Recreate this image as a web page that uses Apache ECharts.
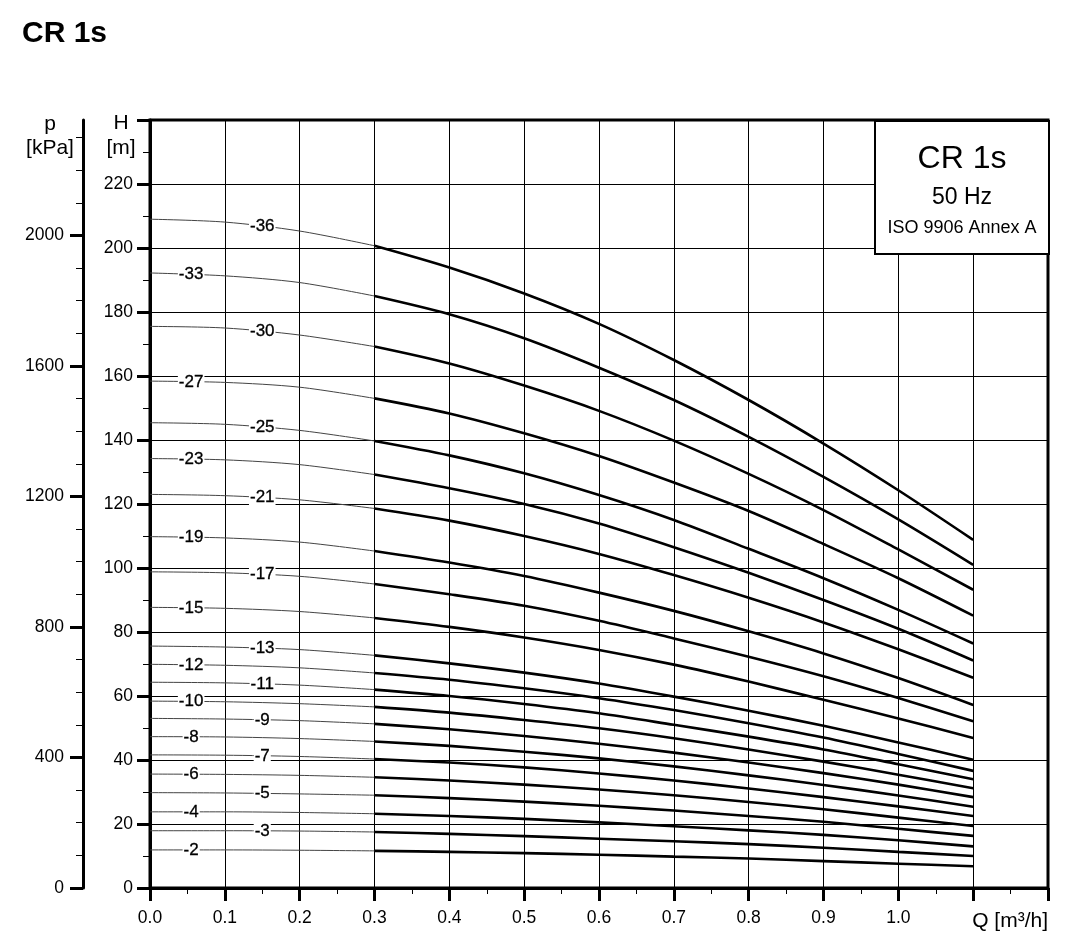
<!DOCTYPE html>
<html>
<head>
<meta charset="utf-8">
<title>CR 1s</title>
<script src="https://cdn.jsdelivr.net/npm/echarts@6/dist/echarts.min.js"></script>
<style>
  html, body { margin: 0; padding: 0; background: #fff; }
  #chart { width: 1081px; height: 942px; }
</style>
</head>
<body>
<div id="chart"></div>
<script>
var flowQ = [0, 0.1, 0.2, 0.3, 0.4, 0.5, 0.6, 0.7, 0.8, 0.9, 1.0, 1.1];

// head (m) per stage variant
var h36 = [209.0, 208.1, 205.3, 200.7, 193.9, 185.8, 176.3, 165.0, 152.5, 138.9, 124.3, 108.8];
var h33 = [192.2, 191.3, 189.2, 185.0, 179.3, 171.8, 162.6, 152.5, 141.0, 128.5, 115.2, 101.0];
var h30 = [175.5, 175.0, 172.8, 169.2, 163.9, 157.0, 149.1, 139.8, 129.4, 118.1, 105.8, 93.2];
var h27 = [158.4, 158.0, 156.5, 153.0, 148.3, 142.1, 135.0, 126.7, 117.8, 107.5, 96.8, 85.1];
var h25 = [145.4, 144.9, 143.0, 139.7, 135.2, 129.6, 122.8, 115.0, 106.0, 96.8, 86.9, 76.4];
var h23 = [134.2, 133.8, 132.3, 129.2, 124.9, 120.0, 113.9, 106.5, 98.5, 90.0, 81.0, 71.1];
var h21 = [123.0, 122.6, 121.3, 118.6, 114.8, 110.0, 104.4, 97.8, 90.7, 83.0, 74.6, 65.7];
var h19 = [109.8, 109.4, 108.1, 105.3, 101.7, 97.5, 92.3, 86.6, 80.2, 73.3, 65.6, 57.2];
var h17 = [98.8, 98.5, 97.4, 95.0, 91.8, 88.2, 83.5, 78.0, 72.3, 66.2, 59.4, 52.1];
var h15 = [87.7, 87.4, 86.4, 84.4, 81.6, 78.3, 74.4, 69.8, 64.5, 58.8, 53.0, 46.9];
var h13 = [75.6, 75.3, 74.5, 72.7, 70.2, 67.3, 63.9, 59.8, 55.4, 50.7, 45.5, 40.1];
var h12 = [69.9, 69.6, 68.8, 67.2, 65.1, 62.4, 59.3, 55.6, 51.5, 47.0, 41.9, 36.6];
var h11 = [64.3, 64.1, 63.4, 62.0, 60.0, 57.5, 54.6, 51.0, 47.3, 43.3, 38.7, 34.0];
var h10 = [58.4, 58.2, 57.6, 56.6, 54.8, 52.5, 49.9, 46.8, 43.3, 39.5, 35.4, 31.2];
var h9 = [53.0, 52.8, 52.3, 51.3, 49.6, 47.5, 45.1, 42.3, 39.2, 35.9, 32.3, 28.4];
var h8 = [47.3, 47.2, 46.7, 45.8, 44.4, 42.6, 40.5, 38.0, 35.2, 32.2, 28.9, 25.4];
var h7 = [41.6, 41.5, 41.1, 40.3, 39.2, 37.7, 35.8, 33.6, 31.1, 28.4, 25.5, 22.5];
var h6 = [35.6, 35.5, 35.2, 34.6, 33.6, 32.3, 30.8, 29.0, 26.9, 24.6, 22.0, 19.4];
var h5 = [29.8, 29.7, 29.4, 29.0, 28.1, 27.0, 25.7, 24.2, 22.5, 20.7, 18.5, 16.3];
var h4 = [23.8, 23.8, 23.6, 23.2, 22.5, 21.6, 20.5, 19.3, 18.0, 16.6, 14.9, 13.0];
var h3 = [17.9, 17.9, 17.8, 17.5, 16.9, 16.2, 15.4, 14.6, 13.7, 12.6, 11.3, 10.0];
var h2 = [11.9, 11.9, 11.8, 11.6, 11.3, 10.9, 10.4, 9.8, 9.2, 8.4, 7.6, 6.8];

var stageNames = ['-36', '-33', '-30', '-27', '-25', '-23', '-21', '-19', '-17', '-15', '-13',
                  '-12', '-11', '-10', '-9', '-8', '-7', '-6', '-5', '-4', '-3', '-2'];
var curves = [h36, h33, h30, h27, h25, h23, h21, h19, h17, h15, h13,
              h12, h11, h10, h9, h8, h7, h6, h5, h4, h3, h2];

// pressure axis ticks (kPa)
var pMajor = [0, 400, 800, 1200, 1600, 2000];
var pMinor = [100, 200, 300, 500, 600, 700, 900, 1000, 1100, 1300, 1400, 1500,
              1700, 1800, 1900, 2100, 2200, 2300];

var FONT = '"Liberation Sans", Arial, sans-serif';
var H_MAX = 240;
var P_MAX = H_MAX * 9.80665;   // 1 m water = 9.80665 kPa

// head at q, straight between the read points (only used to sit the labels on the line)
function headAt(h, q) {
    for (var k = 1; k < flowQ.length; k++) {
        if (q <= flowQ[k]) {
            var t = (q - flowQ[k - 1]) / (flowQ[k] - flowQ[k - 1]);
            return h[k - 1] + t * (h[k] - h[k - 1]);
        }
    }
    return h[h.length - 1];
}

var series = [];
var labelData = [];
curves.forEach(function (h, i) {
    var pts = flowQ.map(function (q, k) { return [q, h[k]]; });
    // thin part below 0.3 m3/h
    series.push({
        type: 'line', data: pts.slice(0, 4), symbol: 'none', smooth: 0.3, silent: true, z: 3,
        lineStyle: { color: '#444', width: 1 }
    });
    // working range
    series.push({
        type: 'line', data: pts.slice(3), symbol: 'none', smooth: 0.3, silent: true, z: 4,
        lineStyle: { color: '#000', width: 2.6 }
    });
    var lq = (i % 2 === 0) ? 0.15 : 0.055;
    labelData.push({ value: [lq, headAt(h, lq)], name: stageNames[i] });
});

// stage labels sitting on the thin part of each curve
series.push({
    type: 'scatter', data: labelData, symbol: 'rect', symbolSize: 1, silent: true, z: 6,
    itemStyle: { color: '#fff' },
    label: {
        show: true, position: 'inside', formatter: '{b}',
        color: '#000', opacity: 1, fontSize: 17, fontFamily: FONT,
        textBorderColor: '#000', textBorderWidth: 0.3,
        backgroundColor: '#fff', padding: [0, 1]
    }
});

var chart = echarts.init(document.getElementById('chart'));

var gridBox = { top: 120, bottom: 54, right: 33 };
var tickFont = 17.5;

var option = {
    backgroundColor: '#fff',
    animation: false,
    title: {
        text: 'CR 1s', left: 17, top: 14,
        textStyle: { fontSize: 30, fontWeight: 'bold', color: '#000', fontFamily: FONT }
    },
    grid: [
        { left: 150, top: gridBox.top, bottom: gridBox.bottom, right: gridBox.right,
          show: true, borderColor: '#000', borderWidth: 3 },
        { left: 83, top: gridBox.top, bottom: gridBox.bottom, right: gridBox.right, show: false },
        { left: 83, top: gridBox.top, bottom: gridBox.bottom, right: gridBox.right, show: false }
    ],
    xAxis: [
        {
            type: 'value', gridIndex: 0, min: 0, max: 1.2, interval: 0.1,
            axisLine: { show: true, onZero: false, lineStyle: { color: '#000', width: 3 } },
            axisTick: { show: true, length: 13, lineStyle: { color: '#000', width: 3 } },
            minorTick: { show: true, splitNumber: 2, length: 6, lineStyle: { color: '#000', width: 1 } },
            axisLabel: {
                margin: 21, fontSize: tickFont, color: '#000', fontFamily: FONT,
                formatter: function (v) { return v > 1.05 ? '' : v.toFixed(1); }
            },
            splitLine: { show: true, lineStyle: { color: '#000', width: 1 } },
            minorSplitLine: { show: false }
        },
        { type: 'value', gridIndex: 1, min: 0, max: 1, show: false },
        { type: 'value', gridIndex: 2, min: 0, max: 1, show: false }
    ],
    yAxis: [
        {
            type: 'value', gridIndex: 0, position: 'left', min: 0, max: H_MAX, interval: 20,
            axisLine: { show: true, onZero: false, lineStyle: { color: '#000', width: 3 } },
            axisTick: { show: true, length: 13, lineStyle: { color: '#000', width: 3 } },
            minorTick: { show: true, splitNumber: 2, length: 7, lineStyle: { color: '#000', width: 1 } },
            axisLabel: {
                margin: 17, fontSize: tickFont, color: '#000', fontFamily: FONT,
                formatter: function (v) { return v >= H_MAX ? '' : String(v); }
            },
            splitLine: { show: true, lineStyle: { color: '#000', width: 1 } }
        },
        {
            type: 'value', gridIndex: 1, position: 'left', min: 0, max: P_MAX,
            axisLine: { show: true, onZero: false, lineStyle: { color: '#000', width: 3 } },
            axisTick: { show: true, customValues: pMajor, length: 13, lineStyle: { color: '#000', width: 3 } },
            axisLabel: {
                customValues: pMajor, margin: 19, fontSize: tickFont, color: '#000', fontFamily: FONT,
                formatter: function (v) { return String(Math.round(v)); }
            },
            splitLine: { show: false }
        },
        {
            type: 'value', gridIndex: 2, position: 'left', min: 0, max: P_MAX,
            axisLine: { show: false },
            axisTick: { show: true, customValues: pMinor, length: 7, lineStyle: { color: '#000', width: 1 } },
            axisLabel: { show: false },
            splitLine: { show: false }
        }
    ],
    graphic: [
        { type: 'text', x: 121, y: 123, z: 50, style: { text: 'H', font: '21px ' + FONT, fill: '#000', align: 'center', verticalAlign: 'middle' } },
        { type: 'text', x: 121, y: 148, z: 50, style: { text: '[m]', font: '21px ' + FONT, fill: '#000', align: 'center', verticalAlign: 'middle' } },
        { type: 'text', x: 50, y: 124, z: 50, style: { text: 'p', font: '21px ' + FONT, fill: '#000', align: 'center', verticalAlign: 'middle' } },
        { type: 'text', x: 50, y: 148, z: 50, style: { text: '[kPa]', font: '21px ' + FONT, fill: '#000', align: 'center', verticalAlign: 'middle' } },
        { type: 'text', x: 1048, y: 921, z: 50, style: { text: 'Q [m³/h]', font: '21px ' + FONT, fill: '#000', align: 'right', verticalAlign: 'middle' } },
        { type: 'rect', z: 100, shape: { x: 875, y: 121, width: 174, height: 133 },
          style: { fill: '#fff', stroke: '#000', lineWidth: 2 } },
        { type: 'text', x: 962, y: 159, z: 101, style: { text: 'CR 1s', font: '32px ' + FONT, fill: '#000', align: 'center', verticalAlign: 'middle' } },
        { type: 'text', x: 962, y: 198, z: 101, style: { text: '50 Hz', font: '23px ' + FONT, fill: '#000', align: 'center', verticalAlign: 'middle' } },
        { type: 'text', x: 962, y: 228, z: 101, style: { text: 'ISO 9906 Annex A', font: '18px ' + FONT, fill: '#000', align: 'center', verticalAlign: 'middle' } }
    ],
    series: series
};

chart.setOption(option);
</script>
</body>
</html>
